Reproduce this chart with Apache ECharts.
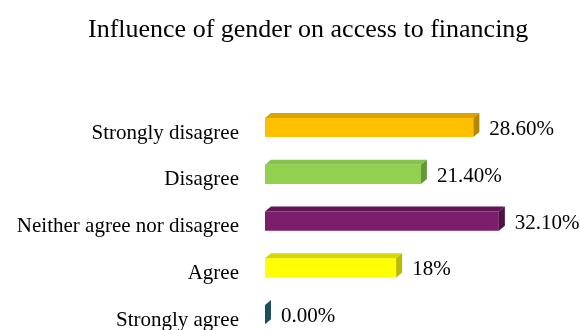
<!DOCTYPE html>
<html>
<head>
<meta charset="utf-8">
<script src="https://cdn.jsdelivr.net/npm/echarts@6/dist/echarts.min.js"></script>
<style>
  html, body { margin: 0; padding: 0; background: #fff; }
  #chart { width: 580px; height: 330px; }
</style>
</head>
<body>
<div id="chart"></div>
<script>
// Survey responses: share of respondents per answer
const categories = [
  'Strongly disagree',
  'Disagree',
  'Neither agree nor disagree',
  'Agree',
  'Strongly agree'
];
const percentValues = [28.6, 21.4, 32.1, 18, 0];
const valueLabels = ['28.60%', '21.40%', '32.10%', '18%', '0.00%'];

// Face colours for each bar: front, top, right side
const faceColors = [
  { front: '#FFC000', top: '#D9A300', side: '#B38700' },
  { front: '#92D050', top: '#86C24A', side: '#65963A' },
  { front: '#7B1F6C', top: '#5E1752', side: '#501246' },
  { front: '#FFFF00', top: '#D6D600', side: '#BABA00' },
  { front: '#215968', top: '#1F4E5F', side: '#1F4E5F' }
];

const SERIF = '"Liberation Serif", "Times New Roman", serif';
const DEPTH_X = 6;
const DEPTH_Y = 5;

const chart = echarts.init(document.getElementById('chart'), null, { renderer: 'canvas' });

// Draws one bar as a box: front face, top face and right side, plus its value text
function renderBar(params, api) {
  const idx = params.dataIndex;
  const cat = api.value(1);
  const start = api.coord([0, cat]);
  const end = api.coord([api.value(0), cat]);
  const h = api.size([0, 1])[1] * 0.41;
  const x0 = start[0];
  const x1 = end[0];
  const yT = start[1] - h / 2 + 0.5;
  const yB = yT + h;
  const c = faceColors[idx];
  const children = [];
  if (x1 > x0) {
    children.push({
      type: 'rect',
      shape: { x: x0, y: yT, width: x1 - x0, height: h },
      style: { fill: c.front }
    });
    children.push({
      type: 'polygon',
      shape: { points: [[x0, yT], [x0 + DEPTH_X, yT - DEPTH_Y], [x1 + DEPTH_X, yT - DEPTH_Y], [x1, yT]] },
      style: { fill: c.top }
    });
  }
  children.push({
    type: 'polygon',
    shape: { points: [[x1, yT], [x1 + DEPTH_X, yT - DEPTH_Y], [x1 + DEPTH_X, yB - DEPTH_Y], [x1, yB]] },
    style: { fill: c.side }
  });
  children.push({
    type: 'text',
    style: {
      text: valueLabels[idx],
      x: x1 + DEPTH_X + 10,
      y: (yT + yB) / 2 + 2,
      verticalAlign: 'middle',
      align: 'left',
      fill: '#000',
      font: '21px ' + SERIF
    }
  });
  return { type: 'group', children };
}

chart.setOption({
  animation: false,
  backgroundColor: '#fff',
  title: {
    text: 'Influence of gender on access to financing',
    left: 83,
    top: 12,
    textStyle: { fontFamily: SERIF, fontSize: 26, fontWeight: 'normal', color: '#000' }
  },
  grid: {
    left: 265, top: 103.6, width: 255, height: 234,
    containLabel: false,
    outerBoundsMode: 'none'
  },
  xAxis: {
    type: 'value',
    min: 0,
    max: 35,
    show: false
  },
  yAxis: {
    type: 'category',
    data: categories,
    inverse: true,
    axisLine: { show: false },
    axisTick: { show: false },
    splitLine: { show: false },
    axisLabel: {
      margin: 26,
      fontFamily: SERIF,
      fontSize: 21,
      color: '#000',
      verticalAlign: 'top',
      lineHeight: 12
    }
  },
  series: [{
    type: 'custom',
    renderItem: renderBar,
    encode: { x: 0, y: 1 },
    data: percentValues.map((v, i) => [v, i])
  }]
});
</script>
</body>
</html>
